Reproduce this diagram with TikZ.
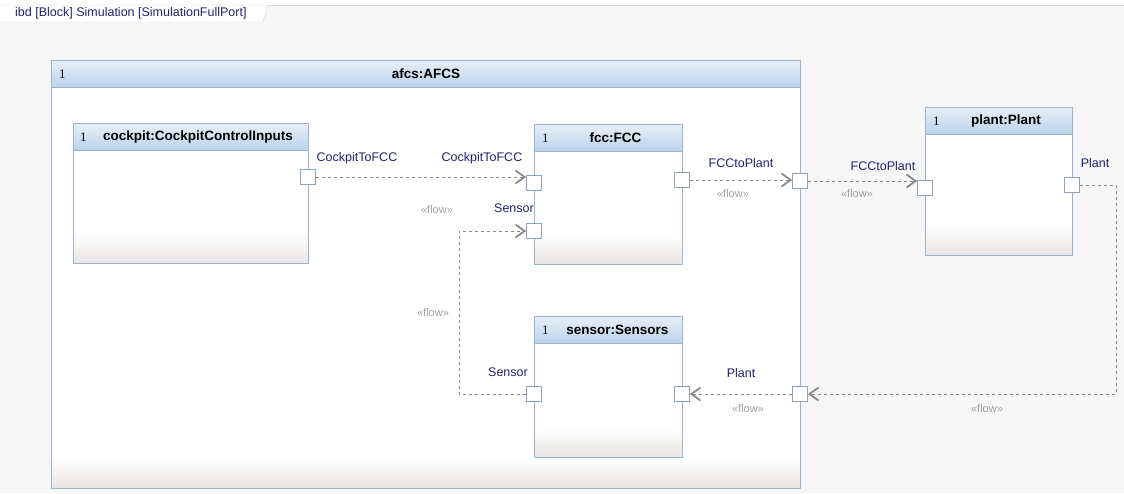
\documentclass[tikz,border=0pt]{standalone}
\usepackage{fontspec}
\setmainfont{Liberation Sans}
\newfontfamily\multfont{Liberation Serif}
\usetikzlibrary{arrows.meta,positioning,calc}

\definecolor{canvas}{HTML}{F6F6F6}
\definecolor{edge}{HTML}{9BB4CC}
\definecolor{hdrtop}{HTML}{E6EFF8}
\definecolor{hdrbot}{HTML}{BBD2EA}
\definecolor{shadebot}{HTML}{E9E7E5}
\definecolor{portedge}{HTML}{8FA3B6}
\definecolor{navy}{HTML}{23236E}
\definecolor{flowgrey}{HTML}{A0A0A0}
\definecolor{linegrey}{HTML}{8A8A8A}
\definecolor{tabedge}{HTML}{D4D4D4}

\begin{document}
\begin{tikzpicture}[x=1pt,y=-1pt,
block/.style={rectangle, draw=edge, fill=white, anchor=north west, inner sep=0pt, line width=0.8pt,
  path picture={\foreach \k [evaluate=\k as \p using int(100-\k*7)] in {0,...,14}
    \fill[shadebot!\p!white] ([yshift=\k*2pt]path picture bounding box.south west) rectangle ([yshift=\k*2pt+2pt]path picture bounding box.south east);}},
header/.style={rectangle, draw=edge, top color=hdrtop, bottom color=hdrbot, anchor=north west, inner sep=0pt, minimum height=27pt, line width=0.8pt},
title/.style={font=\fontsize{13.5}{16}\selectfont\bfseries, inner sep=0pt},
mult/.style={anchor=west, font=\fontsize{13}{15}\selectfont\multfont, inner sep=0pt},
port/.style={rectangle, draw=portedge, fill=white, minimum size=15pt, inner sep=0pt, line width=0.8pt},
lbl/.style={text=navy, font=\fontsize{12.5}{15}\selectfont, inner sep=0pt},
flowtag/.style={text=flowgrey, font=\fontsize{11}{13}\selectfont, inner sep=0pt},
flow/.style={draw=linegrey, line width=0.8pt, dash pattern=on 3pt off 3pt, -{Straight Barb[length=9pt, width=13pt, line width=1.8pt]}}]

\fill[canvas] (0,0) rectangle (1124,493);
\useasboundingbox (0,0) rectangle (1124,493);

% diagram frame tab
\fill[white] (0,0) rectangle (1124,5);
\draw[tabedge] (0,5) -- (1124,5);
\draw[tabedge, fill=white] (0,5) -- (268,5) -- (263,22) -- (0,22);
\draw (15,13) node[anchor=west, text=navy, font=\fontsize{12.5}{14}\selectfont, inner sep=0pt] (frame) {ibd [Block] Simulation [SimulationFullPort]};

% outer block
\draw (51,60) node[block, minimum width=749pt, minimum height=428pt] (afcs) {};
\draw (afcs.north west) node[header, minimum width=749pt] (afcsH) {};
\draw ($(afcsH.center)$) node[title] (afcsT) {afcs:AFCS};
\draw (afcsH.west) node[mult, xshift=8pt] (afcsM) {1};

% parts
\draw (73,123) node[block, minimum width=235pt, minimum height=140pt] (cockpit) {};
\draw (cockpit.north west) node[header, minimum width=235pt] (cockpitH) {};
\draw (cockpitH.center) node[title, xshift=7pt] (cockpitT) {cockpit:CockpitControlInputs};
\draw (cockpitH.west) node[mult, xshift=7pt] (cockpitM) {1};

\draw (534,124) node[block, minimum width=148pt, minimum height=140pt] (fcc) {};
\draw (fcc.north west) node[header, minimum width=148pt] (fccH) {};
\draw (fccH.center) node[title, xshift=7pt] (fccT) {fcc:FCC};
\draw (fccH.west) node[mult, xshift=8pt] (fccM) {1};

\draw (534,316) node[block, minimum width=148pt, minimum height=141pt] (sensor) {};
\draw (sensor.north west) node[header, minimum width=148pt] (sensorH) {};
\draw (sensorH.center) node[title, xshift=9pt] (sensorT) {sensor:Sensors};
\draw (sensorH.west) node[mult, xshift=8pt] (sensorM) {1};

\draw (925,107) node[block, minimum width=147pt, minimum height=148pt] (plant) {};
\draw (plant.north west) node[header, minimum width=147pt] (plantH) {};
\draw (plantH.center) node[title, xshift=7pt] (plantT) {plant:Plant};
\draw (plantH.west) node[mult, xshift=8pt] (plantM) {1};

% ports
\draw (308,177) node[port] (ckOut) {};
\draw (534,183) node[port] (fccIn) {};
\draw (534,231) node[port] (fccSens) {};
\draw (682,180) node[port] (fccOut) {};
\draw (800,181) node[port] (afcsR) {};
\draw (800,394) node[port] (afcsB) {};
\draw (925,188) node[port] (plantIn) {};
\draw (1072,185) node[port] (plantOut) {};
\draw (534,394) node[port] (sensIn) {};
\draw (682,394) node[port] (sensOut) {};

% port names
\draw (357,158) node[lbl] (l1) {CockpitToFCC};
\draw (482,158) node[lbl] (l2) {CockpitToFCC};
\draw (514,208) node[lbl] (l3) {Sensor};
\draw (741,163) node[lbl] (l4) {FCCtoPlant};
\draw (883,166) node[lbl] (l5) {FCCtoPlant};
\draw (1095,163) node[lbl] (l6) {Plant};
\draw (508,372) node[lbl] (l7) {Sensor};
\draw (741,373) node[lbl] (l8) {Plant};

% stereotypes
\draw (437,210) node[flowtag] (f1) {«flow»};
\draw (733,194) node[flowtag] (f2) {«flow»};
\draw (857,194) node[flowtag] (f3) {«flow»};
\draw (433,313) node[flowtag] (f4) {«flow»};
\draw (748,409) node[flowtag] (f5) {«flow»};
\draw (987,409) node[flowtag] (f6) {«flow»};

% connectors
\draw[flow] (ckOut.east) -- (ckOut.east -| fccIn.west);
\draw[flow] (fccOut.east) -- (fccOut.east -| afcsR.west);
\draw[flow] (afcsR.east) -- (afcsR.east -| plantIn.west);
\draw[flow] (plantOut.east) -- ++(36,0) |- (afcsB.east);
\draw[flow] (afcsB.west) -- (sensOut.east);
\draw[flow] (sensIn.west) -- ++(-67,0) |- (fccSens.west);

\end{tikzpicture}
\end{document}
